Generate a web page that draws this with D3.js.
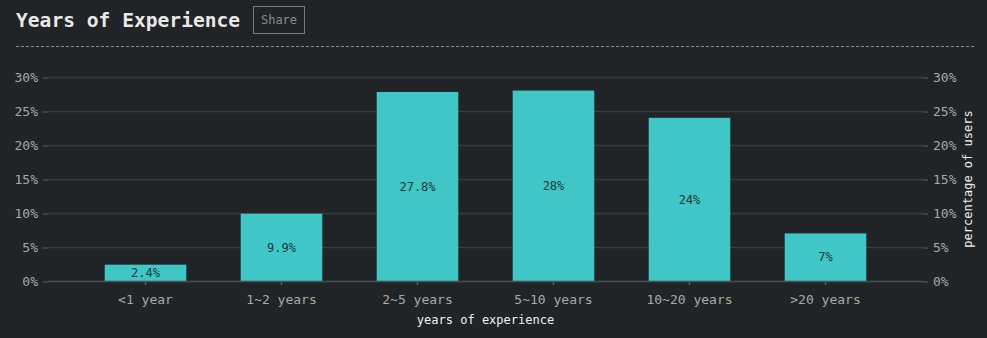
<!DOCTYPE html>
<html><head><meta charset="utf-8">
<script src="https://cdn.jsdelivr.net/npm/d3@7/dist/d3.min.js"></script>
<style>
html,body{margin:0;padding:0;background:#212426;}
svg{display:block;font-family:"DejaVu Sans Mono","Liberation Mono",monospace;}
</style></head><body>
<svg id="c" width="987" height="338"></svg>
<script>
const categories = ["<1 year","1~2 years","2~5 years","5~10 years","10~20 years",">20 years"];
const values = [2.4, 9.9, 27.8, 28, 24, 7];
const yTicks = [0,5,10,15,20,25,30];
const labels = ["2.4%","9.9%","27.8%","28%","24%","7%"];

(function(){
const svg = d3.select("#c");
const mLeft = 48, mRight = 923, mTop = 77, mBottom = 281;

svg.append("text").attr("x",16).attr("y",27).attr("fill","#e8e8e8")
  .attr("font-size",19.6).attr("font-weight","bold").text("Years of Experience");
svg.append("rect").attr("x",253.5).attr("y",6.5).attr("width",51).attr("height",27)
  .attr("fill","none").attr("stroke","#7a7a7a");
svg.append("text").attr("x",279).attr("y",24).attr("text-anchor","middle")
  .attr("fill","#8a8a8a").attr("font-size",12).text("Share");
svg.append("line").attr("x1",16).attr("x2",975).attr("y1",46.5).attr("y2",46.5)
  .attr("stroke","#8a8a8a").attr("stroke-dasharray","3,2");

const x = d3.scaleBand().domain(categories).range([mLeft,mRight]).paddingInner(0.4).paddingOuter(0.417);
const y = d3.scaleLinear().domain([0,30]).range([mBottom,mTop]);

svg.append("g").selectAll("line").data(yTicks).join("line")
  .attr("x1",mLeft).attr("x2",mRight).attr("y1",d=>Math.round(y(d))+0.5).attr("y2",d=>Math.round(y(d))+0.5)
  .attr("stroke","#383b3d").attr("stroke-width",1.5);

const yl = d3.axisLeft(y).tickValues(yTicks).tickFormat(d=>d+"%").tickSize(5).tickPadding(5);
const yr = d3.axisRight(y).tickValues(yTicks).tickFormat(d=>d+"%").tickSize(5).tickPadding(5);
function styleAxis(g){
  g.select(".domain").remove();
  g.selectAll("line").attr("stroke","#4a4d4f").attr("stroke-width",1.5);
  g.selectAll("text").attr("fill","#a8a8a8").attr("font-size",13).attr("font-family","DejaVu Sans Mono, monospace");
}
svg.append("g").attr("transform",`translate(${mLeft},0.5)`).call(yl).call(styleAxis);
svg.append("g").attr("transform",`translate(${mRight},0.5)`).call(yr).call(styleAxis);

svg.append("g").selectAll("rect").data(values).join("rect")
  .attr("x",(d,i)=>x(categories[i])).attr("width",x.bandwidth())
  .attr("y",d=>y(d)).attr("height",d=>y(0)-y(d)).attr("fill","#40c6c6");

svg.append("g").selectAll("text").data(values).join("text")
  .attr("x",(d,i)=>x(categories[i])+x.bandwidth()/2)
  .attr("y",d=>(y(d)+y(0))/2).attr("dy","0.35em").attr("text-anchor","middle")
  .attr("fill","#1d3a3a").attr("font-size",12).text((d,i)=>labels[i]);

const xa = d3.axisBottom(x).tickSize(4).tickPadding(10);
svg.append("g").attr("transform",`translate(0,${mBottom})`).call(xa).call(g=>{
  g.select(".domain").attr("stroke","#4a4d4f").attr("stroke-width",1.5).attr("d",`M${mLeft},0.5H${mRight}`);
  g.selectAll("line").attr("stroke","#5a5d5f").attr("stroke-width",1.5);
  g.selectAll("text").attr("fill","#a8a8a8").attr("font-size",13).attr("font-family","DejaVu Sans Mono, monospace");
});

svg.append("text").attr("x",(mLeft+mRight)/2).attr("y",324).attr("text-anchor","middle")
  .attr("fill","#f0f0f0").attr("font-size",12).text("years of experience");
svg.append("text").attr("transform",`translate(972,${(mTop+mBottom)/2}) rotate(-90)`)
  .attr("text-anchor","middle").attr("fill","#f0f0f0").attr("font-size",12).text("percentage of users");
})();
</script></body></html>
